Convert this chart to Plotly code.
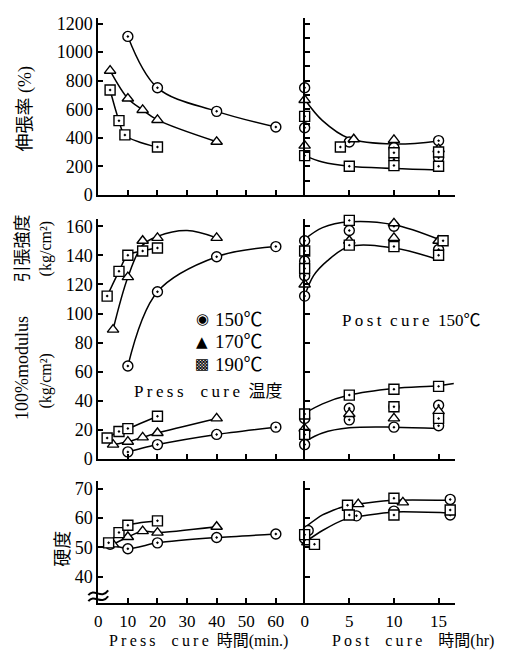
import plotly.graph_objects as go

W, H = 515, 662

# ---------------- data : press cure (min) ----------------
el150_t = [10, 20, 40, 60];       el150 = [1110, 750, 585, 475]
el170_t = [4, 10, 15, 20, 40];    el170 = [870, 675, 595, 525, 372]
el190_t = [4, 7, 9, 20];          el190 = [735, 520, 420, 335]

ts150_t = [10, 20, 40, 60];       ts150 = [64, 115, 139, 146]
ts170_t = [5, 10, 15, 20, 40];    ts170 = [89, 125, 150, 152, 152]
ts170_fit_t = [5, 10, 15, 20, 30, 40]; ts170_fit = [89, 125, 147, 153, 157, 152]
ts190_t = [3, 7, 10, 15, 20];     ts190 = [112, 129, 140, 143, 145]

md150_t = [10, 20, 40, 60];       md150 = [5, 10, 17, 22]
md170_t = [5, 10, 15, 20, 40];    md170 = [10, 12, 15, 18, 28]
md190_t = [3, 7, 10, 20];         md190 = [14.5, 19, 21, 29.5]

hd150_t = [4, 10, 20, 40, 60];    hd150 = [51, 49.5, 51.5, 53.3, 54.5]
hd170_t = [5, 10, 15, 20, 40];    hd170 = [51, 53.5, 55.5, 55, 57]
hd190_t = [3.5, 7, 10, 20];       hd190 = [51.5, 55, 57.5, 59]

# ---------------- data : post cure 150C (hr) ----------------
el_up_h = [0, 2, 5, 10, 15];      el_up = [670, 520, 395, 356, 378]
el_lo_h = [0, 2, 5, 10, 15];      el_lo = [275, 230, 200, 185, 175]
el_c_h = [0, 0, 5, 10, 10, 15, 15];     el_c = [750, 470, 370, 330, 250, 380, 260]
el_t_h = [0, 0, 5.5, 10, 15];           el_t = [665, 345, 390, 385, 320]
el_s_h = [0, 0, 4, 5, 10, 10, 15, 15];  el_s = [550, 275, 335, 200, 295, 205, 300, 200]

ts_up_h = [0, 2, 5, 10, 15];      ts_up = [151, 159, 163, 161, 151]
ts_lo_h = [0, 1, 2.5, 5, 10, 15]; ts_lo = [112, 126, 136, 146, 145, 137]
ts_c_h = [0, 0, 0, 0, 5, 10, 15];       ts_c = [150, 136, 126, 112, 157, 160, 144]
ts_t_h = [0, 5, 10, 10, 15];            ts_t = [120, 150, 162, 152, 150]
ts_s_h = [0, 0, 5, 5, 10, 15.5, 15];    ts_s = [143, 131, 164, 147, 146, 150, 140]

md_up_h = [0, 2, 5, 10, 15, 16.7]; md_up = [31.5, 38, 44, 48.5, 50.5, 52]
md_lo_h = [0, 2, 5, 10, 15];       md_lo = [12, 18, 21.5, 22, 21]
md_c_h = [0, 0, 5, 5, 10, 10, 15, 15];  md_c = [28, 10, 35, 27, 36, 22, 37, 23]
md_t_h = [0, 5, 10, 15];                md_t = [21, 31, 28, 33]
md_s_h = [0, 0, 5, 10, 15, 10, 15];     md_s = [31, 17, 44, 48, 50, 36, 28]

hd_up_h = [0, 2, 4.5, 10, 16];    hd_up = [56.7, 61, 64, 66, 66]
hd_lo_h = [0, 2, 4.5, 10, 16];    hd_lo = [51.7, 55.7, 59.5, 62, 61.7]
hd_c_h = [0.4, 0, 5.8, 10, 16.3, 16.3]; hd_c = [55.7, 53, 60.7, 62.3, 66.3, 61]
hd_t_h = [0.3, 6, 11, 17];              hd_t = [51.7, 64.7, 65.3, 64.7]
hd_s_h = [0, 1.1, 4.8, 5, 10, 10, 16.3]; hd_s = [54.3, 51, 64.3, 61, 66.7, 61, 62.7]

press_ticks = [0, 10, 20, 30, 40, 50, 60]
post_ticks = [0, 5, 10, 15]
el_ticks = [0, 200, 400, 600, 800, 1000, 1200]
ts_ticks = [0, 20, 40, 60, 80, 100, 120, 140, 160]
hd_ticks = [40, 50, 60, 70]

legend_names = ["150℃", "170℃", "190℃"]
legend_glyphs = ["◉", "▲", "▩"]

# ---------------- helpers ----------------
def fx(px): return px / W
def fy(py): return 1 - py / H

SERIF = "Liberation Serif, Times New Roman, serif"
NUMFONT = dict(family=SERIF, size=18, color="black")
XNUMFONT = dict(family=SERIF, size=17, color="black")
TXTFONT = "Liberation Serif, Times New Roman, Noto Sans CJK JP, serif"

SYM = {"c": "circle-dot", "t": "triangle-up", "s": "square-dot"}

fig = go.Figure()

def curve(x, y, ax, smooth=1.0):
    fig.add_trace(go.Scatter(x=x, y=y, mode="lines", xaxis=ax[0], yaxis=ax[1],
                             line=dict(color="black", width=1.5, shape="spline", smoothing=smooth),
                             showlegend=False, hoverinfo="skip"))

def marks(x, y, ax, kind, size=10):
    fig.add_trace(go.Scatter(x=x, y=y, mode="markers", xaxis=ax[0], yaxis=ax[1], cliponaxis=False,
                             marker=dict(symbol=SYM[kind], size=size, color="white",
                                         line=dict(color="black", width=1.4)),
                             showlegend=False, hoverinfo="skip"))

A1, A2, A3, A4, A5, A6 = ("x", "y"), ("x2", "y2"), ("x3", "y3"), ("x4", "y4"), ("x5", "y5"), ("x6", "y6")

# elongation
curve(el150_t, el150, A1); marks(el150_t, el150, A1, "c")
curve(el170_t, el170, A1); marks(el170_t, el170, A1, "t")
curve(el190_t, el190, A1); marks(el190_t, el190, A1, "s")
curve(el_up_h, el_up, A2); curve(el_lo_h, el_lo, A2)
marks(el_c_h, el_c, A2, "c"); marks(el_t_h, el_t, A2, "t"); marks(el_s_h, el_s, A2, "s")

# tensile strength + modulus
curve(ts150_t, ts150, A3); marks(ts150_t, ts150, A3, "c")
curve(ts170_fit_t, ts170_fit, A3); marks(ts170_t, ts170, A3, "t")
curve(ts190_t, ts190, A3); marks(ts190_t, ts190, A3, "s")
curve(md150_t, md150, A3, 0.6); marks(md150_t, md150, A3, "c")
curve(md170_t, md170, A3, 0.6); marks(md170_t, md170, A3, "t")
curve(md190_t, md190, A3, 0.6); marks(md190_t, md190, A3, "s")
curve(ts_up_h, ts_up, A4); curve(ts_lo_h, ts_lo, A4)
marks(ts_c_h, ts_c, A4, "c"); marks(ts_t_h, ts_t, A4, "t"); marks(ts_s_h, ts_s, A4, "s")
curve(md_up_h, md_up, A4); curve(md_lo_h, md_lo, A4)
marks(md_c_h, md_c, A4, "c"); marks(md_t_h, md_t, A4, "t"); marks(md_s_h, md_s, A4, "s")

# hardness
curve(hd150_t, hd150, A5, 0.6); marks(hd150_t, hd150, A5, "c")
curve(hd170_t, hd170, A5, 0.6); marks(hd170_t, hd170, A5, "t")
curve(hd190_t, hd190, A5, 0.6); marks(hd190_t, hd190, A5, "s")
curve(hd_up_h, hd_up, A6, 0.6); curve(hd_lo_h, hd_lo, A6, 0.6)
marks(hd_c_h, hd_c, A6, "c"); marks(hd_t_h, hd_t, A6, "t"); marks(hd_s_h, hd_s, A6, "s")

# ---------------- axes ----------------
XL = [fx(95), fx(303)]; XL_RANGE = [0, (303 - 95) / 2.983]
XR = [fx(303), fx(455)]; XR_RANGE = [0, (455 - 303) / 9.0]

Y1 = [fy(195), fy(14)];  Y1_RANGE = [0, (195 - 14) / (175 / 1200)]
Y2 = [fy(465), fy(220)]; Y2_RANGE = [0, (465 - 220) / 1.4875]
Y3 = [fy(612), fy(487)]; Y3_RANGE = [40 - (612 - 585) / 3.0, 40 + (585 - 487) / 3.0]

def xax(dom, rng, anchor, tickvals, labels):
    return dict(domain=dom, range=rng, anchor=anchor, showline=True, linecolor="black", linewidth=2,
                ticks="inside", ticklen=5, tickwidth=1.5, tickcolor="black", tickvals=tickvals,
                showticklabels=labels, tickfont=XNUMFONT, ticklabelstandoff=2,
                showgrid=False, zeroline=False, fixedrange=True)

def yax(dom, rng, anchor, tickvals, labels):
    return dict(domain=dom, range=rng, anchor=anchor, showline=True, linecolor="black", linewidth=2,
                ticks="inside", ticklen=5, tickwidth=1.5, tickcolor="black", tickvals=tickvals,
                showticklabels=labels, tickfont=NUMFONT, showgrid=False, zeroline=False, fixedrange=True)

fig.update_layout(
    width=W, height=H, margin=dict(l=0, r=0, t=0, b=0),
    paper_bgcolor="white", plot_bgcolor="white", showlegend=False,
    xaxis=xax(XL, XL_RANGE, "y", press_ticks[1:], False),
    yaxis=yax(Y1, Y1_RANGE, "x", el_ticks, True),
    xaxis2=xax(XR, XR_RANGE, "y2", post_ticks[1:], False),
    yaxis2=yax(Y1, Y1_RANGE, "x2", list(range(100, 1300, 100)), False),
    xaxis3=xax(XL, XL_RANGE, "y3", press_ticks[1:], False),
    yaxis3=yax(Y2, Y2_RANGE, "x3", ts_ticks, True),
    xaxis4=xax(XR, XR_RANGE, "y4", post_ticks[1:], False),
    yaxis4=yax(Y2, Y2_RANGE, "x4", ts_ticks[1:], False),
    xaxis5=xax(XL, XL_RANGE, "y5", press_ticks, True),
    yaxis5=yax(Y3, Y3_RANGE, "x5", hd_ticks, True),
    xaxis6=xax(XR, XR_RANGE, "y6", post_ticks, True),
    yaxis6=yax(Y3, Y3_RANGE, "x6", hd_ticks, False),
)

def note(text, px, py, size=17, angle=0, xanchor="center", family=TXTFONT):
    fig.add_annotation(text=text, x=fx(px), y=fy(py), xref="paper", yref="paper", showarrow=False,
                       textangle=angle, xanchor=xanchor, yanchor="middle",
                       font=dict(family=family, size=size, color="black"))

# legend (as text)
for i, (g, name) in enumerate(zip(legend_glyphs, legend_names)):
    note(g, 200, 322 + 23 * i, 15, family="DejaVu Sans, sans-serif")
    note(name, 211, 322 + 23 * i, 19, xanchor="left", family=SERIF + ", Noto Sans CJK JP")

ts = "\u2009"
note("伸張率 (%)", 22, 107, 18, -90)
note("引張強度", 19, 250, 17, -90)
note("(kg/cm²)", 42, 250, 16, -90)
note("100%modulus", 18, 372, 18, -90)
note("(kg/cm²)", 42, 385, 16, -90)
note("硬度", 60, 557, 18, -90)
note(ts.join("Press") + "\u2003" + ts.join("cure") + "\u2002温度", 206, 396, 17)
note(ts.join("Post") + "\u2002" + ts.join("cure") + "\u2002150℃", 410, 323, 17)
note(ts.join("Press") + "\u2003" + ts.join("cure") + "\u2002時間(min.)", 196, 651, 16)
note(ts.join("Post") + "\u2003" + ts.join("cure") + "\u2003時間(hr)", 412, 651, 16)

# axis break mark on hardness axis
def P(px, py): return f"{fx(px):.5f},{fy(py):.5f}"
for dy in (0, 6):
    fig.add_shape(type="path", xref="paper", yref="paper",
                  path=f"M {P(85, 604 + dy)} C {P(91, 596 + dy)} {P(98, 609 + dy)} {P(105, 599 + dy)}",
                  line=dict(color="black", width=2))

fig.write_html("out.html")
